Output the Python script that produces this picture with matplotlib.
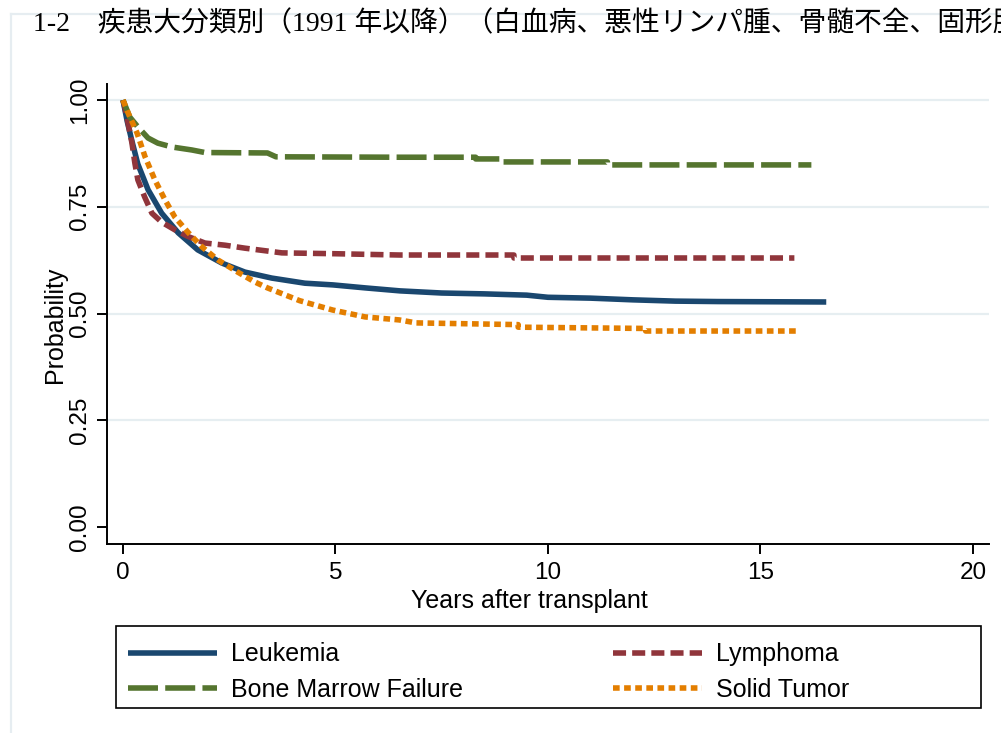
import matplotlib
matplotlib.use('Agg')
import matplotlib.pyplot as plt
from matplotlib.patches import Rectangle
from matplotlib.lines import Line2D

plt.rcParams['font.family'] = ['Liberation Sans', 'DejaVu Sans']

# ---------------- data ----------------
title = "1-2\u3000疾患大分類別（1991 年以降）（白血病、悪性リンパ腫、骨髄不全、固形腫瘍）"
labels = ["Leukemia", "Lymphoma", "Bone Marrow Failure", "Solid Tumor"]

leuk_t = [0, 0.1, 0.21, 0.35, 0.59, 0.91, 1.3, 1.76, 2.33, 2.87, 3.5, 4.28, 4.94, 5.7,
          6.52, 7.5, 8.5, 9.5, 10.0, 11.0, 12.0, 13.0, 14.0, 16.55]
leuk_s = [1.0, 0.95, 0.904, 0.85, 0.79, 0.735, 0.689, 0.649, 0.618, 0.597, 0.583, 0.571,
          0.567, 0.56, 0.553, 0.548, 0.546, 0.543, 0.538, 0.536, 0.532, 0.529, 0.528, 0.527]

lymph_t = [0, 0.05, 0.12, 0.21, 0.28, 0.35, 0.51, 0.68, 0.91, 1.22, 1.54, 1.93, 2.4, 2.87,
           3.74, 5.0, 6.5, 9.2, 9.2, 15.8]
lymph_s = [1.0, 0.98, 0.946, 0.9, 0.852, 0.813, 0.773, 0.735, 0.714, 0.696, 0.68, 0.665,
           0.66, 0.653, 0.642, 0.64, 0.637, 0.637, 0.630, 0.630]

bmf_t = [0, 0.16, 0.35, 0.59, 0.82, 1.15, 1.62, 1.93, 3.4, 3.6, 6.5, 8.3, 8.3, 8.9, 8.9,
         11.4, 11.4, 16.2]
bmf_s = [1.0, 0.96, 0.937, 0.911, 0.899, 0.89, 0.883, 0.877, 0.876, 0.867, 0.866, 0.866,
         0.862, 0.862, 0.855, 0.855, 0.848, 0.848]

solid_t = [0, 0.12, 0.33, 0.52, 0.75, 0.99, 1.22, 1.54, 1.86, 2.24, 2.7, 3.1, 3.4, 4.16,
           4.94, 5.7, 6.5, 6.9, 9.3, 9.3, 12.3, 12.3, 15.9]
solid_s = [1.0, 0.97, 0.923, 0.867, 0.813, 0.766, 0.726, 0.689, 0.656, 0.625, 0.597, 0.574,
           0.56, 0.53, 0.508, 0.492, 0.485, 0.478, 0.474, 0.468, 0.465, 0.459, 0.459]

xticks = [0, 5, 10, 15, 20]
yticks = [0.0, 0.25, 0.5, 0.75, 1.0]
ytick_labels = ["0.00", "0.25", "0.50", "0.75", "1.00"]

# ---------------- figure ----------------
W, H = 1001, 733
fig = plt.figure(figsize=(W / 100, H / 100), dpi=100)

# light outer frame of the graph region
fig.add_artist(Line2D([11 / W, 11 / W], [0, 1 - 14 / H], transform=fig.transFigure,
                      color='#e6edf1', lw=1.6))
fig.add_artist(Line2D([11 / W, 1], [1 - 14 / H, 1 - 14 / H], transform=fig.transFigure,
                      color='#e6edf1', lw=1.6))

fig.text(33 / W, 1 - 24 / H, title, ha='left', va='center', fontsize=20,
         family=['Liberation Serif', 'Noto Sans CJK JP', 'DejaVu Sans'])

ax = fig.add_axes([107 / W, 1 - 544 / H, (989 - 107) / W, (544 - 84) / H])

lw = 4.0
l1, = ax.plot(leuk_t, leuk_s, color='#1a476f', lw=lw, solid_capstyle='butt')
l2, = ax.plot(lymph_t, lymph_s, color='#90353b', lw=lw, dashes=(2.35, 1.1),
              dash_capstyle='butt')
l3, = ax.plot(bmf_t, bmf_s, color='#55752f', lw=lw, dashes=(5.4, 1.3),
              dash_capstyle='butt')
l4, = ax.plot(solid_t, solid_s, color='#e37e00', lw=lw, dashes=(1.2, 0.8),
              dash_capstyle='butt')

ax.set_xlim(-0.376, 20.38)
ax.set_ylim(-0.0398, 1.0375)
ax.set_xticks(xticks)
ax.set_yticks(yticks)
ax.set_yticklabels(ytick_labels)

for s in ['top', 'right']:
    ax.spines[s].set_visible(False)
for s in ['left', 'bottom']:
    ax.spines[s].set_linewidth(1.4)

ax.tick_params(axis='y', length=7.2, width=1.4, labelrotation=90, labelsize=17.5, pad=4)
ax.tick_params(axis='x', length=7.2, width=1.4, labelsize=17.5, pad=6)
for t in ax.get_yticklabels():
    t.set_verticalalignment('center')

ax.yaxis.grid(True, color='#e6eef1', lw=1.6)
ax.set_axisbelow(True)
ax.yaxis.get_gridlines()[0].set_visible(False)

ax.set_ylabel("Probability", fontsize=18)
ax.yaxis.set_label_coords((67 - 107) / 882, (544 - 325) / 460)
ax.set_xlabel("Years after transplant", fontsize=18)
ax.xaxis.set_label_coords((529 - 107) / 882, (544 - 589) / 460)

# legend (row-major in the reference -> reorder for column-major fill)
fig.add_artist(Rectangle((116 / W, 1 - 708 / H), (981 - 116) / W, (708 - 626) / H,
                         transform=fig.transFigure, fill=False, ec='black', lw=1.2))
fig.legend([l1, l3, l2, l4], [labels[0], labels[2], labels[1], labels[3]],
           ncol=2, loc='center left', bbox_to_anchor=(128 / W, 1 - 672 / H),
           frameon=False, fontsize=18, handlelength=3.56, handletextpad=0.56,
           columnspacing=6.0, labelspacing=0.45, borderpad=0, borderaxespad=0)

fig.savefig('out.png', dpi=100)
